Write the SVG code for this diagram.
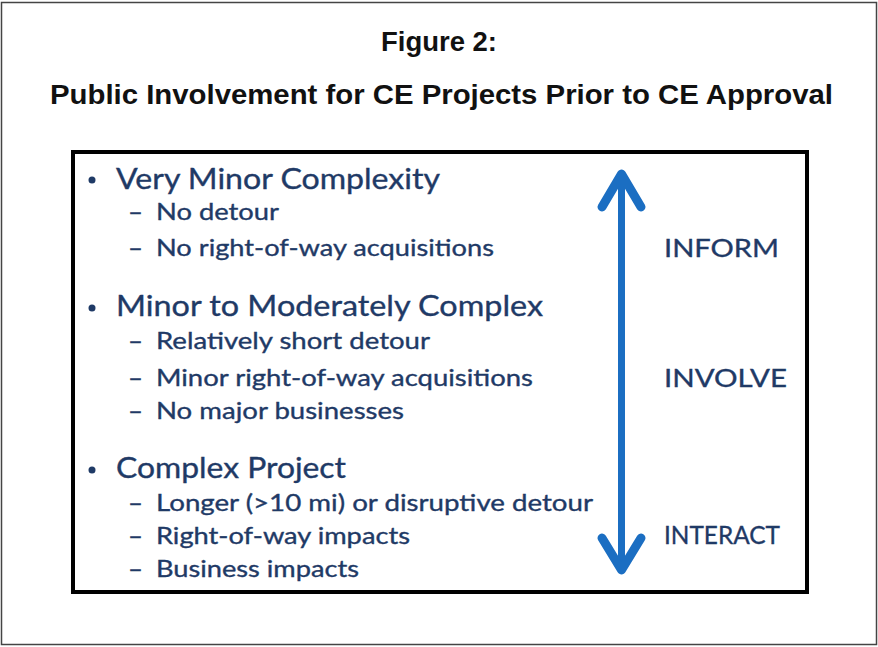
<svg xmlns="http://www.w3.org/2000/svg" width="878" height="647" viewBox="0 0 878 647">
<style>
.title{font-family:"Liberation Sans",Arial,sans-serif;font-weight:bold;font-size:27px;fill:#111;}
.main{font-family:Lato,"Open Sans",sans-serif;font-size:28px;fill:#1f3a66;stroke:#1f3a66;stroke-width:0.35;}
.sub{font-family:Lato,"Open Sans",sans-serif;font-size:23px;fill:#1f3a66;stroke:#1f3a66;stroke-width:0.35;}
.dash{font-family:Lato,"Open Sans",sans-serif;font-size:23px;fill:#1f3a66;stroke:#1f3a66;stroke-width:0.35;}
.lvl{font-family:Lato,"Open Sans",sans-serif;font-size:25px;fill:#1f3a66;stroke:#1f3a66;stroke-width:0.35;}
.arrow{stroke:#1b6ec2;fill:none;stroke-linecap:round;stroke-linejoin:round;}
</style>
<rect x="0" y="0" width="878" height="647" fill="#ffffff"/>
<rect x="1.5" y="2.5" width="875" height="642" fill="none" stroke="#444" stroke-width="1.5"/>
<g id="title">
<text class="title" x="439" y="51" text-anchor="middle" textLength="116" lengthAdjust="spacingAndGlyphs">Figure 2:</text>
<text class="title" x="441.5" y="104" text-anchor="middle" textLength="783" lengthAdjust="spacingAndGlyphs">Public Involvement for CE Projects Prior to CE Approval</text>
</g>
<g id="panel">
<rect x="75" y="154" width="734" height="440" fill="#555" opacity="0.35"/>
<rect x="73" y="152" width="734" height="440" fill="#fff" stroke="#000" stroke-width="4"/>
</g>
<g id="group1">
<circle cx="92" cy="180" r="3.5" fill="#1f3a66"/>
<text class="main" x="116" y="189" textLength="324" lengthAdjust="spacingAndGlyphs">Very Minor Complexity</text>
<text class="dash" x="128" y="220" textLength="15" lengthAdjust="spacingAndGlyphs">–</text>
<text class="sub" x="156" y="220" textLength="123" lengthAdjust="spacingAndGlyphs">No detour</text>
<text class="dash" x="128" y="256" textLength="15" lengthAdjust="spacingAndGlyphs">–</text>
<text class="sub" x="156" y="256" textLength="338" lengthAdjust="spacingAndGlyphs">No right-of-way acquisitions</text>
</g>
<g id="group2">
<circle cx="92" cy="308" r="3.5" fill="#1f3a66"/>
<text class="main" x="116" y="316" textLength="427" lengthAdjust="spacingAndGlyphs">Minor to Moderately Complex</text>
<text class="dash" x="128" y="349" textLength="15" lengthAdjust="spacingAndGlyphs">–</text>
<text class="sub" x="156" y="349" textLength="274" lengthAdjust="spacingAndGlyphs">Relatively short detour</text>
<text class="dash" x="128" y="386" textLength="15" lengthAdjust="spacingAndGlyphs">–</text>
<text class="sub" x="156" y="386" textLength="377" lengthAdjust="spacingAndGlyphs">Minor right-of-way acquisitions</text>
<text class="dash" x="128" y="419" textLength="15" lengthAdjust="spacingAndGlyphs">–</text>
<text class="sub" x="156" y="419" textLength="248" lengthAdjust="spacingAndGlyphs">No major businesses</text>
</g>
<g id="group3">
<circle cx="92" cy="470" r="3.5" fill="#1f3a66"/>
<text class="main" x="116" y="478" textLength="230" lengthAdjust="spacingAndGlyphs">Complex Project</text>
<text class="dash" x="128" y="511" textLength="15" lengthAdjust="spacingAndGlyphs">–</text>
<text class="sub" x="156" y="511" textLength="437" lengthAdjust="spacingAndGlyphs">Longer (&gt;10 mi) or disruptive detour</text>
<text class="dash" x="128" y="544" textLength="15" lengthAdjust="spacingAndGlyphs">–</text>
<text class="sub" x="156" y="544" textLength="254" lengthAdjust="spacingAndGlyphs">Right-of-way impacts</text>
<text class="dash" x="128" y="577" textLength="15" lengthAdjust="spacingAndGlyphs">–</text>
<text class="sub" x="156" y="577" textLength="203" lengthAdjust="spacingAndGlyphs">Business impacts</text>
</g>
<g id="connectors">
<line class="arrow" x1="621.5" y1="174" x2="621.5" y2="570" stroke-width="7"/>
<polyline class="arrow" points="602,207 621.5,174 641,207" stroke-width="9"/>
<polyline class="arrow" points="602,538 621.5,570 641,538" stroke-width="9"/>
</g>
<g id="levels">
<text class="lvl" x="664" y="257" textLength="115" lengthAdjust="spacingAndGlyphs">INFORM</text>
<text class="lvl" x="664" y="387" textLength="123" lengthAdjust="spacingAndGlyphs">INVOLVE</text>
<text class="lvl" x="664" y="544" font-size="22" textLength="116" lengthAdjust="spacingAndGlyphs">INTERACT</text>
</g>
</svg>
